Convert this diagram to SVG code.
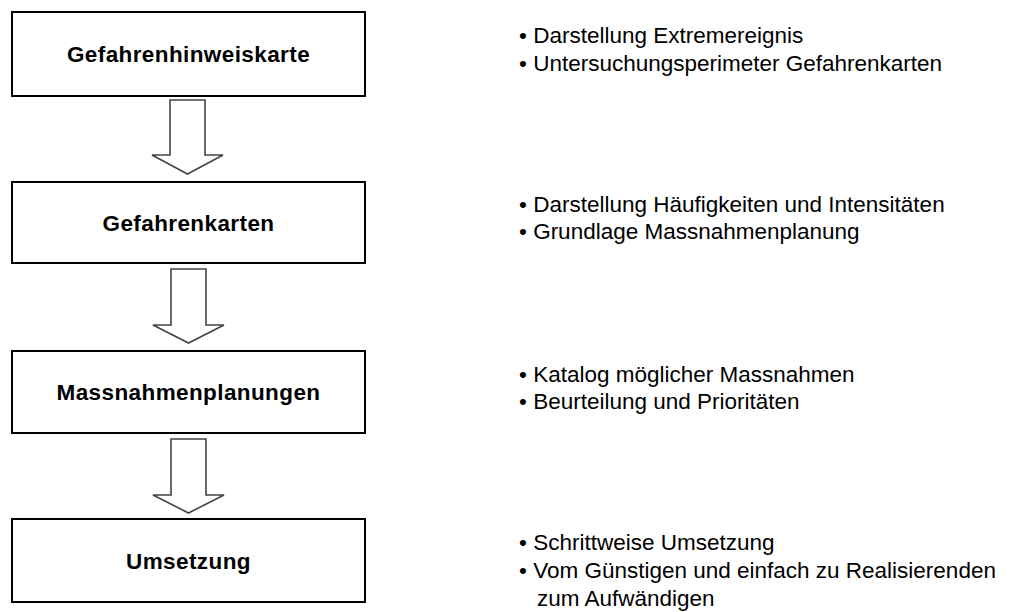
<svg xmlns="http://www.w3.org/2000/svg" width="1021" height="612" viewBox="0 0 1021 612">
  <style>
    .box { fill: #ffffff; stroke: #000000; stroke-width: 2; }
    .lbl { font-family: "Liberation Sans", Arial, sans-serif; font-size: 22.5px; font-weight: bold; fill: #000000; text-anchor: middle; letter-spacing: 0.4px; }
    .arrow { fill: #ffffff; stroke: #444444; stroke-width: 1.6; stroke-linejoin: miter; }
    .note { font-family: "Liberation Sans", Arial, sans-serif; font-size: 22.5px; fill: #000000; }
  </style>
  <rect width="1021" height="612" fill="#ffffff"/>
  <g id="node-gefahrenhinweiskarte">
    <rect class="box" x="12" y="12" width="353" height="84"/>
    <text class="lbl" x="188.5" y="62">Gefahrenhinweiskarte</text>
  </g>
  <g id="node-gefahrenkarten">
    <rect class="box" x="12" y="182" width="353" height="81"/>
    <text class="lbl" x="188.5" y="231">Gefahrenkarten</text>
  </g>
  <g id="node-massnahmenplanungen">
    <rect class="box" x="12" y="351" width="353" height="82"/>
    <text class="lbl" x="188.5" y="400">Massnahmenplanungen</text>
  </g>
  <g id="node-umsetzung">
    <rect class="box" x="12" y="519" width="353" height="83"/>
    <text class="lbl" x="188.5" y="569">Umsetzung</text>
  </g>
  <g id="connectors">
    <polygon class="arrow" points="170,100 205,100 205,155 223,155 187.5,174 152,155 170,155"/>
    <polygon class="arrow" points="171,269 206,269 206,325 224,325 188.5,343 153,325 171,325"/>
    <polygon class="arrow" points="171,439 206,439 206,495 224,495 188.5,513 153,495 171,495"/>
  </g>
  <g id="notes">
    <text class="note" x="519" y="43">• Darstellung Extremereignis</text>
    <text class="note" x="519" y="71">• Untersuchungsperimeter Gefahrenkarten</text>
    <text class="note" x="519" y="212">• Darstellung Häufigkeiten und Intensitäten</text>
    <text class="note" x="519" y="239">• Grundlage Massnahmenplanung</text>
    <text class="note" x="519" y="382">• Katalog möglicher Massnahmen</text>
    <text class="note" x="519" y="409">• Beurteilung und Prioritäten</text>
    <text class="note" x="519" y="550">• Schrittweise Umsetzung</text>
    <text class="note" x="519" y="578">• Vom Günstigen und einfach zu Realisierenden</text>
    <text class="note" x="537" y="606">zum Aufwändigen</text>
  </g>
</svg>
